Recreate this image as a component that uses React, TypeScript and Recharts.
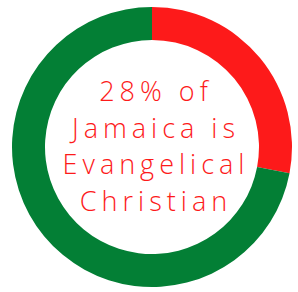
import { PieChart, Pie, Cell } from "recharts"

const categories = ["Evangelical Christian", "Other"]
const shares = [28, 72]
const colors = ["#fd1a1a", "#037f35"]
const captionLines = ["28% of", "Jamaica is", "Evangelical", "Christian"]

const data = categories.map((name, i) => ({ name, value: shares[i] }))

export default function App() {
  return (
    <div style={{ position: "absolute", left: 0, top: 0, width: 298, height: 292, background: "#fff" }}>
      <PieChart width={298} height={292} margin={{ top: 0, right: 0, bottom: 0, left: 0 }}>
        <Pie
          data={data}
          dataKey="value"
          cx={152}
          cy={147}
          innerRadius={107}
          outerRadius={140}
          startAngle={90}
          endAngle={-270}
          stroke="none"
          isAnimationActive={false}
        >
          {data.map((d, i) => (
            <Cell key={d.name} fill={colors[i]} />
          ))}
        </Pie>
      </PieChart>
      {/* letter-spacing leaves a trailing gap, so nudge the block right by half of it */}
      <div
        style={{
          position: "absolute",
          left: 34,
          top: 73,
          width: 244,
          textAlign: "center",
          color: "#fd1a1a",
          fontFamily: "'Open Sans', sans-serif",
          fontWeight: 300,
          fontSize: 27,
          lineHeight: "36.5px",
          letterSpacing: 5,
        }}
      >
        {captionLines.map((l) => (
          <div key={l}>{l}</div>
        ))}
      </div>
    </div>
  )
}
